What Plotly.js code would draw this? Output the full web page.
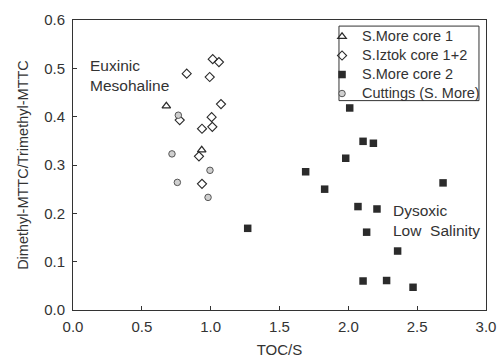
<!DOCTYPE html>
<html><head><meta charset="utf-8">
<script src="https://cdn.plot.ly/plotly-3.0.1.min.js"></script>
<style>html,body{margin:0;padding:0;background:#fff}#chart{width:498px;height:361px}</style>
</head><body><div id="chart"></div>
<script>
const core1X = [0.678, 0.935];
const core1Y = [0.422, 0.331];
const iztokX = [1.015, 1.060, 0.826, 0.993, 1.075, 0.775, 1.007, 0.937, 1.012, 0.915, 0.937];
const iztokY = [0.519, 0.513, 0.489, 0.482, 0.426, 0.393, 0.399, 0.375, 0.379, 0.318, 0.261];
const core2X = [2.010, 2.107, 2.182, 1.981, 1.690, 1.828, 2.688, 2.070, 2.208, 2.133, 2.358, 1.269, 2.107, 2.278, 2.470];
const core2Y = [0.418, 0.349, 0.345, 0.314, 0.286, 0.250, 0.263, 0.214, 0.209, 0.161, 0.122, 0.169, 0.060, 0.061, 0.047];
const cutX = [0.765, 0.719, 0.995, 0.758, 0.981];
const cutY = [0.403, 0.323, 0.289, 0.264, 0.233];
const names = ["S.More core 1", "S.Iztok core 1+2", "S.More core 2", "Cuttings (S. More)"];
const xTicks = [0, 0.5, 1.0, 1.5, 2.0, 2.5, 3.0];
const yTicks = [0, 0.1, 0.2, 0.3, 0.4, 0.5, 0.6];

const ink = '#2b2b2b';
const FONT = 'Liberation Sans, Arial, sans-serif';
const lg = n => '<span style="font-size:14.5px">' + n + '</span>';
const traces = [
  {x: core1X, y: core1Y, name: lg(names[0]), mode: 'markers', type: 'scatter',
   marker: {symbol: 'triangle-up-open', size: 7.5, color: ink, line: {width: 1.2, color: ink}}},
  {x: iztokX, y: iztokY, name: lg(names[1]), mode: 'markers', type: 'scatter',
   marker: {symbol: 'diamond-open', size: 7, color: ink, line: {width: 1.1, color: ink}}},
  {x: core2X, y: core2Y, name: lg(names[2]), mode: 'markers', type: 'scatter',
   marker: {symbol: 'square', size: 7.5, color: ink, line: {width: 0}}},
  {x: cutX, y: cutY, name: lg(names[3]), mode: 'markers', type: 'scatter',
   marker: {symbol: 'circle', size: 6.5, color: '#cfcfcf', line: {width: 1, color: '#555'}}}
];

const axisCommon = {
  showgrid: false, zeroline: false, showline: true, mirror: true,
  linecolor: '#333', linewidth: 1, ticks: 'inside', ticklen: 4, tickcolor: '#333',
  tickfont: {family: FONT, size: 15, color: '#333'}
};

const layout = {
  width: 498, height: 361,
  margin: {l: 73, r: 12, t: 20, b: 51},
  paper_bgcolor: '#fff', plot_bgcolor: '#fff',
  font: {family: FONT, color: '#333'},
  xaxis: Object.assign({}, axisCommon, {
    range: [0, 3], tickvals: xTicks, ticktext: xTicks.map(v => v.toFixed(1)),
    ticklabelstandoff: 3,
    title: {text: 'TOC/S', font: {size: 15, color: '#333'}, standoff: 10}
  }),
  yaxis: Object.assign({}, axisCommon, {
    range: [0, 0.6], tickvals: yTicks, ticktext: yTicks.map(v => v.toFixed(1)),
    ticklabelstandoff: 4,
    title: {text: 'Dimethyl-MTTC/Trimethyl-MTTC', font: {size: 14.5, color: '#333'}, standoff: 12}
  }),
  showlegend: true,
  legend: {
    x: 0.603, y: 0.993, xanchor: 'left', yanchor: 'top',
    borderwidth: 0, bgcolor: 'rgba(0,0,0,0)',
    font: {size: 12, color: '#333', family: FONT}, itemwidth: 30, tracegroupgap: 0
  },
  shapes: [
    {type: 'rect', xref: 'paper', yref: 'paper', x0: 0.644, x1: 0.983, y0: 0.722, y1: 0.979,
     line: {color: '#333', width: 1}, fillcolor: 'rgba(0,0,0,0)', layer: 'below'}
  ],
  annotations: [
    {x: 0.11, y: 0.486, xref: 'x', yref: 'y', text: 'Euxinic<br>Mesohaline', showarrow: false,
     xanchor: 'left', align: 'left', font: {size: 15.5, color: '#333'}},
    {x: 2.313, y: 0.186, xref: 'x', yref: 'y', text: 'Dysoxic<br>Low  Salinity', showarrow: false,
     xanchor: 'left', align: 'left', font: {size: 15.5, color: '#333'}}
  ]
};

Plotly.newPlot('chart', traces, layout, {displayModeBar: false, staticPlot: true});
</script>
</body></html>
